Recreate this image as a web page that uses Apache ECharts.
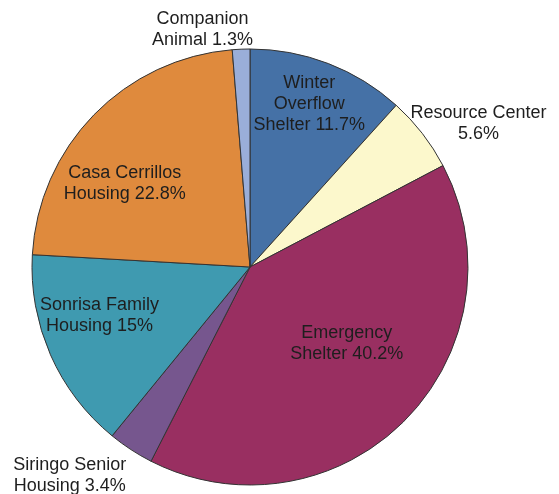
<!DOCTYPE html>
<html>
<head>
<meta charset="utf-8">
<script src="https://cdn.jsdelivr.net/npm/echarts@6/dist/echarts.min.js"></script>
<style>html,body{margin:0;padding:0;background:#fff;}#c{width:559px;height:494px;}</style>
</head>
<body>
<div id="c"></div>
<script>
const categories = ['Winter\nOverflow\nShelter', 'Resource Center\n', 'Emergency\nShelter', 'Siringo Senior\nHousing', 'Sonrisa Family\nHousing', 'Casa Cerrillos\nHousing', 'Companion\nAnimal'];
const values = [11.7, 5.6, 40.2, 3.4, 15, 22.8, 1.3];
const colors = ['#4571a6', '#fcf8cc', '#992f61', '#76568e', '#3f9ab0', '#df8a3d', '#9aaed9'];
// label offsets (style only)
const labelOffsets = [[19, -58], [140, -75], [17, -2], [-119, 115], [-48, 3], [-45, -5], [-43, -126]];

const chart = echarts.init(document.getElementById('c'), null, {renderer: 'canvas'});
chart.setOption({
  animation: false,
  series: [{
    type: 'pie',
    center: [250, 267],
    radius: 218,
    startAngle: 90,
    clockwise: true,
    data: categories.map((n, i) => ({name: n, value: values[i], itemStyle: {color: colors[i]}})),
    itemStyle: {borderColor: '#333', borderWidth: 1},
    label: {
      position: 'inside',
      formatter: function (p) {
        const n = p.name;
        if (n.endsWith('\n')) return n + p.value + '%';
        return n + ' ' + p.value + '%';
      },
      fontFamily: 'Liberation Sans, Arial, sans-serif',
      fontSize: 18,
      lineHeight: 21,
      color: '#1e1e1e',
      align: 'center'
    },
    labelLine: {show: false},
    labelLayout: function (params) {
      const o = labelOffsets[params.dataIndex];
      return {dx: o[0], dy: o[1]};
    },
    emphasis: {disabled: true}
  }]
});
</script>
</body>
</html>
